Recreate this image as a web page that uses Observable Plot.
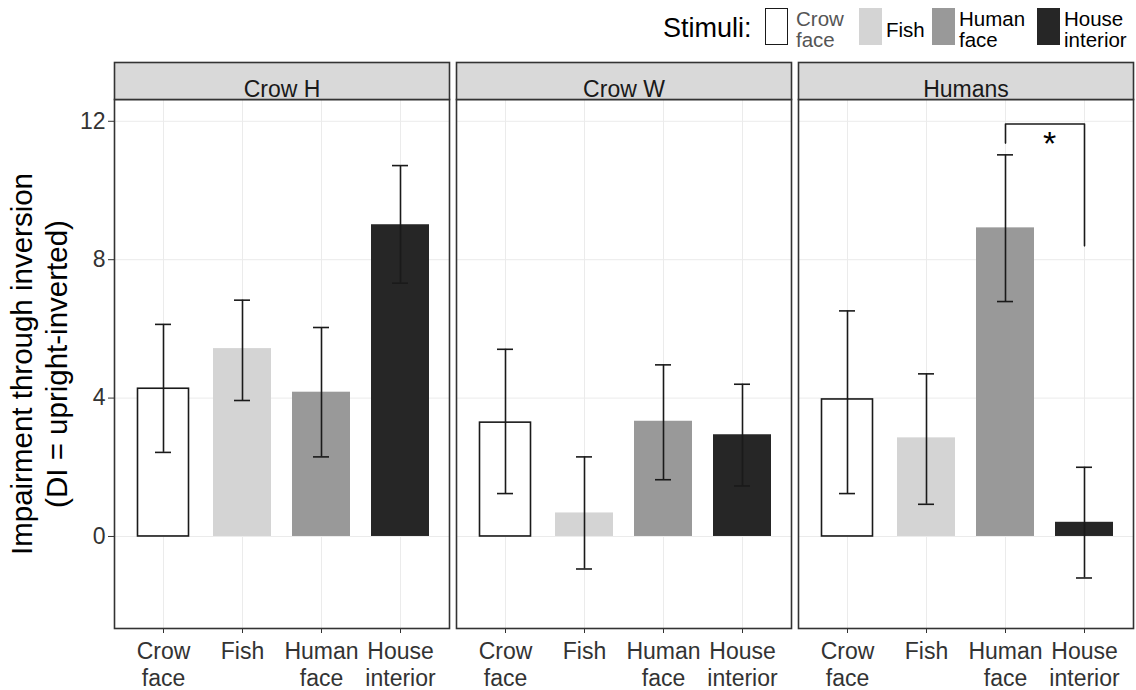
<!DOCTYPE html>
<html>
<head>
<meta charset="utf-8">
<script src="https://cdn.jsdelivr.net/npm/d3@7"></script>
<script src="https://cdn.jsdelivr.net/npm/@observablehq/plot@0.6"></script>
<style>
  body { margin: 0; background: #fff; font-family: "Liberation Sans", Arial, sans-serif; }
  #wrap { position: relative; width: 1136px; height: 690px; }
  #legend { position: relative; width: 1136px; height: 56px; }
  #legend .t { position: absolute; white-space: pre; color: #000; }
  #legend .sw { position: absolute; top: 8px; width: 23px; height: 37px; box-sizing: border-box; }
</style>
</head>
<body>
<div id="wrap">
  <div id="legend"></div>
  <div id="chart"></div>
</div>
<script>
// ---- data ----
const panels = ["Crow H", "Crow W", "Humans"];
const stimuli = ["Crow face", "Fish", "Human face", "House interior"];
const tickLabels = ["Crow\nface", "Fish", "Human\nface", "House\ninterior"];
const legendLabels = ["Crow\nface", "Fish", "Human\nface", "House\ninterior"];
const fills = ["#ffffff", "#d4d4d4", "#999999", "#262626"];

const meanCrowH = [4.27, 5.43, 4.17, 9.01];
const lowCrowH  = [2.43, 3.93, 2.30, 7.32];
const highCrowH = [6.13, 6.83, 6.04, 10.72];

const meanCrowW = [3.29, 0.68, 3.33, 2.94];
const lowCrowW  = [1.24, -0.94, 1.64, 1.46];
const highCrowW = [5.41, 2.30, 4.96, 4.40];

const meanHumans = [3.96, 2.85, 8.92, 0.41];
const lowHumans  = [1.24, 0.93, 6.79, -1.20];
const highHumans = [6.52, 4.70, 11.03, 2.00];

const yTicks = [0, 4, 8, 12];
const yDomain = [-2.66, 12.63];

// significance bracket (Humans panel)
const bracketX = ["Human face", "Human face", "House interior", "House interior"];
const bracketY = [11.37, 11.92, 11.92, 8.40];
const sigLabel = ["*"];
const sigY = [11.35];

const yTitle = "Impairment through inversion\n(DI = upright-inverted)";

// ---- build table ----
const means = [meanCrowH, meanCrowW, meanHumans];
const lows = [lowCrowH, lowCrowW, lowHumans];
const highs = [highCrowH, highCrowW, highHumans];
const rows = panels.flatMap((p, pi) => stimuli.map((s, si) => ({
  panel: p, stimulus: s, mean: means[pi][si], lo: lows[pi][si], hi: highs[pi][si]
})));
const bracket = bracketX.map((x, i) => ({panel: "Humans", x, y: bracketY[i]}));

// ---- legend (HTML) ----
const legend = document.getElementById("legend");
function addText(txt, left, top, size, lh, color) {
  const d = document.createElement("div");
  d.className = "t";
  d.textContent = txt;
  d.style.left = left + "px"; d.style.top = top + "px";
  d.style.fontSize = size + "px"; d.style.lineHeight = lh + "px";
  if (color) d.style.color = color;
  legend.appendChild(d);
}
addText("Stimuli:", 663, 15, 27, 27);
const swLeft = [765, 859, 932, 1037];
const txtLeft = [796, 886, 959, 1064];
stimuli.forEach((s, i) => {
  const b = document.createElement("div");
  b.className = "sw";
  b.style.left = swLeft[i] + "px";
  b.style.background = fills[i];
  if (i === 0) b.style.border = "1.5px solid #1a1a1a";
  legend.appendChild(b);
  const lbl = legendLabels[i];
  const twoLine = lbl.includes("\n");
  addText(lbl, txtLeft[i], twoLine ? 8 : 19, 20.5, 21, i === 0 ? "#555" : "#000");
});

// ---- chart ----
const ink = "#1a1a1a";
const chart = Plot.plot({
  width: 1136,
  height: 634,
  marginTop: 43,
  marginBottom: 62,
  marginLeft: 113,
  marginRight: 2,
  style: {fontFamily: "Liberation Sans, Arial, sans-serif", background: "#fff"},
  fx: {domain: panels, paddingInner: 0.02, paddingOuter: 0, axis: null, label: null},
  x: {domain: stimuli, paddingInner: 0.27, paddingOuter: 0.235, label: null},
  y: {domain: yDomain, label: null},
  color: {domain: stimuli, range: fills},
  marks: [
    Plot.gridY({ticks: yTicks, stroke: "#ebebeb", strokeOpacity: 1, strokeWidth: 1}),
    Plot.gridX({stroke: "#ebebeb", strokeOpacity: 1, strokeWidth: 1}),
    Plot.barY(rows.filter(d => d.stimulus !== "Crow face"),
      {fx: "panel", x: "stimulus", y: "mean", fill: "stimulus"}),
    Plot.barY(rows.filter(d => d.stimulus === "Crow face"),
      {fx: "panel", x: "stimulus", y: "mean", fill: "#ffffff", stroke: ink, strokeWidth: 1.6,
       insetLeft: 3.5, insetRight: 3.5}),
    Plot.ruleX(rows, {fx: "panel", x: "stimulus", y1: "lo", y2: "hi", stroke: ink, strokeWidth: 1.6}),
    Plot.tickY(rows, {fx: "panel", x: "stimulus", y: "lo", stroke: ink, strokeWidth: 1.6, insetLeft: 21, insetRight: 21}),
    Plot.tickY(rows, {fx: "panel", x: "stimulus", y: "hi", stroke: ink, strokeWidth: 1.6, insetLeft: 21, insetRight: 21}),
    Plot.frame({stroke: "#333", strokeWidth: 1.6}),
    Plot.frame({fill: "#d9d9d9", stroke: "#333", strokeWidth: 1.6, insetTop: -37, insetBottom: 529}),
    Plot.text(panels, {fx: d => d, text: d => d, frameAnchor: "top", dy: -18.5, fontSize: 23, fill: "#1a1a1a"}),
    Plot.line(bracket, {fx: "panel", x: "x", y: "y", stroke: ink, strokeWidth: 1.6}),
    Plot.text(sigLabel, {fx: () => "Humans", x: () => "Human face", y: (d, i) => sigY[i], text: d => d,
      dx: 44, fontSize: 34, fill: "#000"}),
    Plot.axisY({ticks: yTicks, tickSize: 6, tickPadding: 3, fontSize: 23, facetAnchor: "left",
      label: null, stroke: "#333", color: "#333"}),
    Plot.axisX({tickSize: 5, tickPadding: 7, fontSize: 23, lineHeight: 1.15, label: null,
      tickFormat: d => tickLabels[stimuli.indexOf(d)], stroke: "#333", color: "#333"}),
    Plot.text([yTitle], {fx: () => panels[0], text: d => d, frameAnchor: "left", textAnchor: "middle",
      rotate: -90, dx: -76, fontSize: 29.5, lineHeight: 1.16, fill: "#000"})
  ]
});
document.getElementById("chart").appendChild(chart);
</script>
</body>
</html>
